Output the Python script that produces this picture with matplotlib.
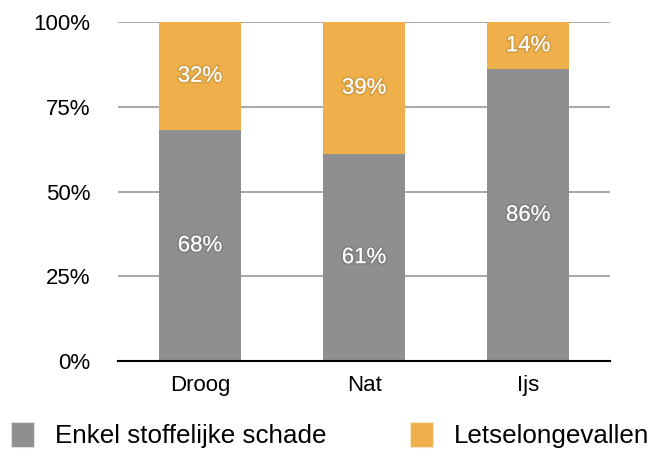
import matplotlib.pyplot as plt
import matplotlib.patheffects as pe
from matplotlib.patches import Patch

categories = ['Droog', 'Nat', 'Ijs']
materieel = [68, 61, 86]
letsel = [32, 39, 14]
series_names = ['Enkel stoffelijke schade', 'Letselongevallen']
yticks = [0, 25, 50, 75, 100]

gray = '#8e8f8e'
orange = '#efb04b'

plt.rcParams['font.family'] = ['Liberation Sans', 'DejaVu Sans']

fig = plt.figure(figsize=(6.59, 4.66), dpi=100)
ax = fig.add_axes([0.179, 0.2253, 0.747, 0.7275])

x = range(len(categories))
ax.bar(x, materieel, width=0.5, color=gray, zorder=3)
ax.bar(x, letsel, width=0.5, bottom=materieel, color=orange, zorder=3)

# white labels with a faint shadow, like the original
shadow = [pe.withStroke(linewidth=2.5, foreground=(0, 0, 0, 0.1))]
for i in x:
    ax.text(i, materieel[i] / 2, '%d%%' % materieel[i], ha='center', va='center',
            color='white', fontsize=16, zorder=4, path_effects=shadow)
    ax.text(i, materieel[i] + letsel[i] / 2, '%d%%' % letsel[i], ha='center', va='center',
            color='white', fontsize=16, zorder=4, path_effects=shadow)

ax.set_xlim(-0.5, 2.5)
ax.set_ylim(0, 100)
ax.set_yticks(yticks)
ax.set_yticklabels(['%d%%' % t for t in yticks], fontsize=16)
ax.set_xticks(list(x))
ax.set_xticklabels(categories, fontsize=16)
ax.tick_params(axis='x', length=0, pad=10)
ax.tick_params(axis='y', length=0, pad=20)
for s in ['top', 'right', 'left']:
    ax.spines[s].set_visible(False)
ax.spines['bottom'].set_color('black')
ax.spines['bottom'].set_linewidth(1.5)
ax.spines['bottom'].set_zorder(5)
ax.yaxis.grid(True, color='#aaaaaa', linewidth=1.5, zorder=0)

handles = [Patch(facecolor=gray, edgecolor='#e0e0e0', linewidth=0.8),
           Patch(facecolor=orange, edgecolor='#fbe6c6', linewidth=0.8)]
fig.legend(handles, series_names, loc='center left', bbox_to_anchor=(11 / 659, 1 - 435 / 466), ncol=2,
           frameon=False, fontsize=18.7, handlelength=0.9, handleheight=1.1,
           handletextpad=0.8, columnspacing=3.2, borderpad=0, borderaxespad=0)

fig.savefig('out.png', dpi=100)
